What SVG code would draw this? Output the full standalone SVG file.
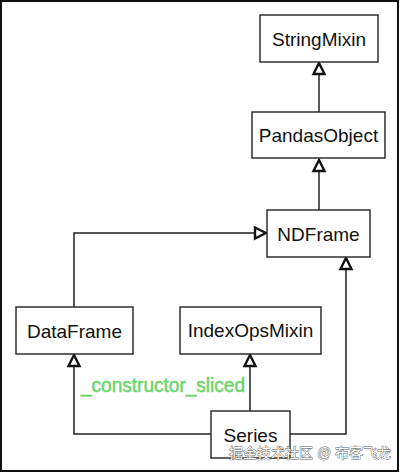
<svg xmlns="http://www.w3.org/2000/svg" width="400" height="473" viewBox="0 0 400 473">
<style>
.box{fill:#fff;stroke:#222;stroke-width:1.4}
.lbl{font-family:"Liberation Sans",Arial,sans-serif;font-size:19px;fill:#111;text-anchor:middle;dominant-baseline:central}
.edge{fill:none;stroke:#222;stroke-width:1.5}
</style>
<defs>
<marker id="tri" markerUnits="userSpaceOnUse" markerWidth="16" markerHeight="16" viewBox="-2 -7 16 14" refX="12" refY="0" orient="auto">
<path d="M1,-5.5 L12,0 L1,5.5 Z" fill="#fff" stroke="#111" stroke-width="2.4" stroke-linejoin="miter"/>
</marker>
</defs>
<rect x="1" y="1" width="397" height="470" fill="#fff" stroke="#111" stroke-width="2"/>
<g id="connectors">
<path class="edge" d="M319,112 V63" marker-end="url(#tri)"/>
<path class="edge" d="M319,210 V160" marker-end="url(#tri)"/>
<path class="edge" d="M74,307 V233 H266" marker-end="url(#tri)"/>
<path class="edge" d="M290,434 H346 V258" marker-end="url(#tri)"/>
<path class="edge" d="M211,434 H74 V355" marker-end="url(#tri)"/>
<path class="edge" d="M250,411 V355" marker-end="url(#tri)"/>
</g>
<g id="StringMixin">
<rect class="box" x="260" y="15" width="118" height="47"/>
<text class="lbl" x="319" y="39">StringMixin</text>
</g>
<g id="PandasObject">
<rect class="box" x="252" y="112" width="133" height="46"/>
<text class="lbl" x="318.5" y="135">PandasObject</text>
</g>
<g id="NDFrame">
<rect class="box" x="267" y="210" width="103" height="47"/>
<text class="lbl" x="318.5" y="234">NDFrame</text>
</g>
<g id="DataFrame">
<rect class="box" x="16" y="307" width="117" height="47"/>
<text class="lbl" x="74.5" y="331">DataFrame</text>
</g>
<g id="IndexOpsMixin">
<rect class="box" x="180" y="307" width="141" height="47"/>
<text class="lbl" x="250.5" y="330">IndexOpsMixin</text>
</g>
<g id="Series">
<rect class="box" x="211" y="411" width="79" height="47"/>
<text class="lbl" x="250.5" y="435">Series</text>
</g>
<text x="163" y="392" font-family="Liberation Sans,Arial,sans-serif" font-size="20" fill="#6cd46c" stroke="#6cd46c" stroke-width="0.5" text-anchor="middle" textLength="164" lengthAdjust="spacingAndGlyphs">_constructor_sliced</text>
<text x="310" y="458" font-family="Liberation Sans,'Noto Sans CJK SC',sans-serif" font-size="14" fill="#fff" stroke="#555" stroke-width="0.8" paint-order="stroke" text-anchor="middle">掘金技术社区 @ 布客飞龙</text>
</svg>
